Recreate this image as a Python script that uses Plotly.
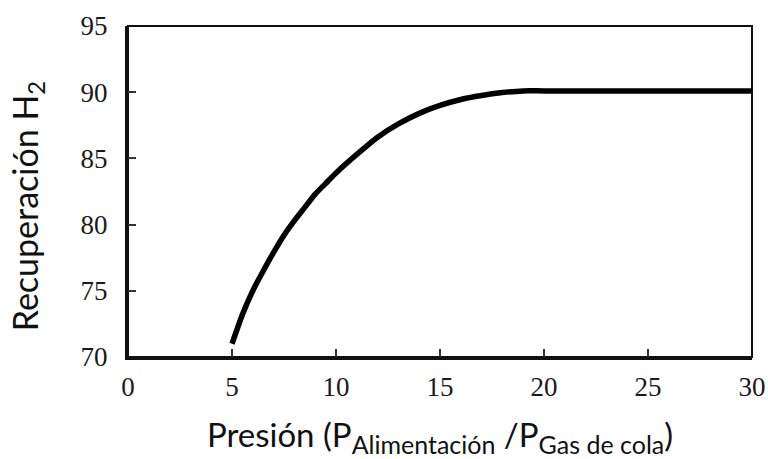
import plotly.graph_objects as go

presion = [5, 5.5, 6, 6.5, 7, 7.5, 8, 8.5, 9, 9.5, 10, 11, 12, 13, 14, 15, 16, 17, 18, 19, 20, 25, 30]
recuperacion = [71.0, 73.2, 75.0, 76.5, 77.9, 79.2, 80.3, 81.3, 82.3, 83.1, 83.9, 85.3, 86.6, 87.6, 88.4,
                89.0, 89.45, 89.75, 89.97, 90.1, 90.1, 90.1, 90.1]

x_ticks = [0, 5, 10, 15, 20, 25, 30]
y_ticks = [70, 75, 80, 85, 90, 95]

fig = go.Figure()
fig.add_trace(go.Scatter(
    x=presion, y=recuperacion, mode="lines",
    line=dict(color="black", width=5.5, shape="spline", smoothing=0.6),
    showlegend=False,
))

tick_font = dict(family="Liberation Serif, Times New Roman, serif", size=27, color="#1a1a1a")
title_font = dict(family="Lato, Carlito, Calibri, sans-serif", size=33, color="#111")

fig.update_layout(
    width=768, height=459, autosize=False,
    margin=dict(l=128, r=16, t=26, b=102, autoexpand=False),
    paper_bgcolor="white", plot_bgcolor="white",
    xaxis=dict(
        range=[0, 30], tickvals=x_ticks, ticktext=[str(v) for v in x_ticks],
        ticks="inside", ticklen=8, tickwidth=1.5, tickcolor="#333",
        showline=True, linecolor="#111", linewidth=3, mirror=False,
        showgrid=False, zeroline=False, tickfont=tick_font,
        ticklabelstandoff=4, automargin=False,
        title=dict(text="Presión (P<sub><span style='font-size:25px'>Alimentación</span></sub> /P"
                        "<sub><span style='font-size:25px'>Gas de cola</span></sub>)",
                   font=title_font, standoff=27),
    ),
    yaxis=dict(
        range=[70, 95], tickvals=y_ticks, ticktext=[str(v) for v in y_ticks],
        ticks="inside", ticklen=8, tickwidth=1.5, tickcolor="#333",
        showline=True, linecolor="#111", linewidth=3, mirror=False,
        showgrid=False, zeroline=False, tickfont=tick_font,
        ticklabelstandoff=12, automargin=False,
    ),
    shapes=[dict(type="rect", xref="paper", yref="paper", x0=0, x1=1, y0=0, y1=1,
                 line=dict(color="#111", width=2), layer="below")],
    annotations=[dict(text="Recuperación H<sub>2</sub>", textangle=-90,
                      xref="paper", yref="paper", x=-0.162, y=0.455,
                      xanchor="center", yanchor="middle", showarrow=False,
                      font=dict(title_font, size=34))],
)

fig.write_html(
    "out.html",
    config={"responsive": False, "displayModeBar": False},
    post_script="document.body.style.margin='0';document.body.style.overflow='hidden';"
                "document.documentElement.style.overflow='hidden';",
)
